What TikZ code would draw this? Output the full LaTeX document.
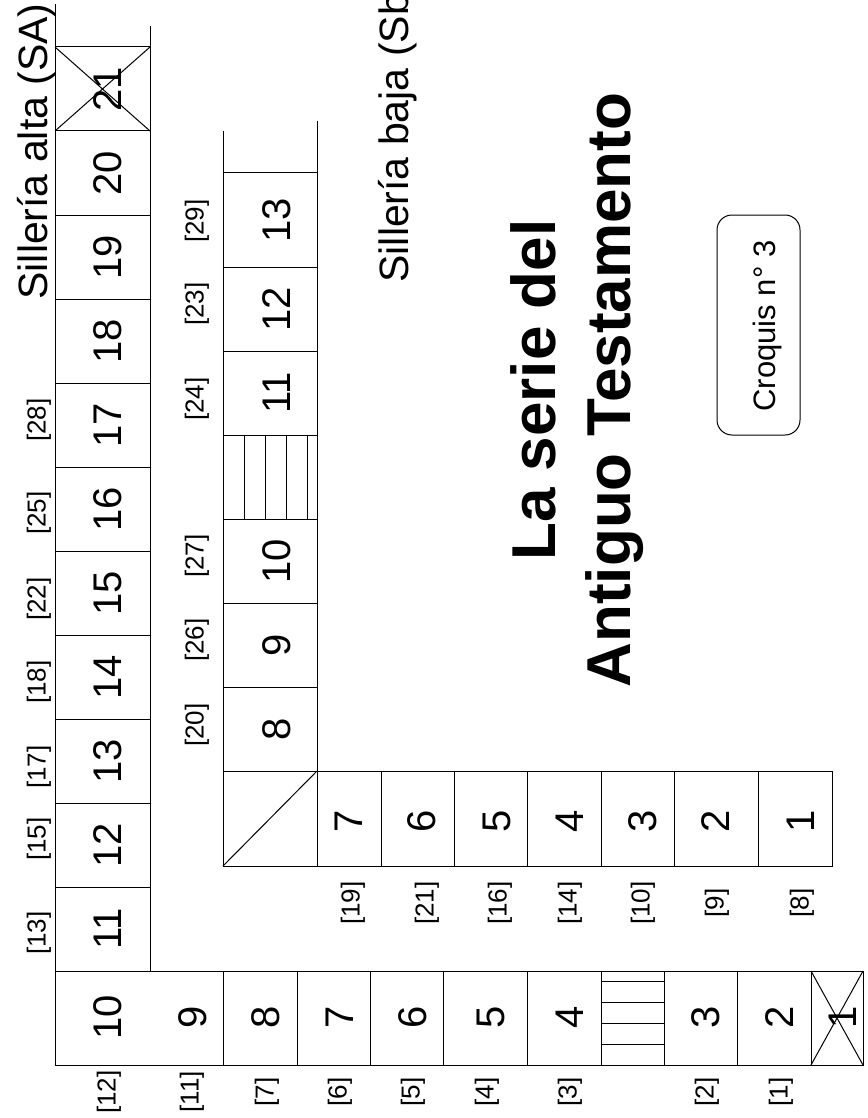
\documentclass[tikz,border=0pt]{standalone}
\usepackage{fontspec}
\setmainfont{Liberation Sans}
\begin{document}
\begin{tikzpicture}[x=1pt,y=-1pt,line width=1pt,
  every node/.append style={rotate=90,inner sep=0pt},
  num/.style={font=\fontsize{40}{40}\selectfont},
  ref/.style={font=\fontsize{26}{26}\selectfont},
  seat/.style={font=\fontsize{41}{41}\selectfont,anchor=base west},
  title/.style={font=\fontsize{62}{75}\selectfont\bfseries,align=center}]
  \useasboundingbox (0,0) rectangle (867,1118);
  % silleria alta
  \draw (55,4) -- (55,1065) -- (863,1065) -- (863,971) -- (150,971) -- (150,26);
  \draw (55,971) -- (150,971);
  \foreach \y in {47,131,...,887} \draw (55,\y) -- (150,\y);
  \draw (55,47) -- (150,131) (150,47) -- (55,131);
  \foreach \x in {223,297,370,443,527,601,664,737,811} \draw (\x,971) -- (\x,1065);
  \foreach \y in {981,1002,1023,1044} \draw (601,\y) -- (664,\y);
  \draw (811,971) -- (863,1065) (863,971) -- (811,1065);
  % silleria baja
  \draw (223,131) -- (223,866) -- (832,866) -- (832,771) -- (223,771);
  \draw (317,121) -- (317,866);
  \foreach \y in {173,267,351,435,519,603,687} \draw (223,\y) -- (317,\y);
  \foreach \x in {244,265,286,307} \draw (\x,435) -- (\x,519);
  \draw (223,866) -- (317,771);
  \foreach \x in {381,454,527,601,674,758} \draw (\x,771) -- (\x,866);

  \foreach \n [count=\k from 0] in {21,20,...,11}
    \node[num] (sa\n) at (108,89+84*\k) {\n};
  \foreach \n/\y in {13/933,15/839,17/767,18/682,22/599,25/513,28/420}
    \node[ref] (ra\n) at (39,\y) {[\n]};
  \foreach \n/\x in {10/108,9/193,8/266,7/340,6/413,5/491,4/570,3/706,2/780,1/843}
    \node[num] (sab\n) at (\x,1017) {\n};
  \foreach \n/\x in {12/109,11/192,7/267,6/340,5/413,4/487,3/570,2/707,1/781}
    \node[ref] (rab\n) at (\x,1092) {[\n]};
  \foreach \n/\y in {13/220,12/309,11/393,10/561,9/645,8/729}
    \node[num] (sb\n) at (277,\y) {\n};
  \foreach \n/\y in {29/221,23/304,24/399,27/556,26/640,20/725}
    \node[ref] (rb\n) at (197,\y) {[\n]};
  \foreach \n/\x in {7/349,6/422,5/497,4/570,3/643,2/716,1/801}
    \node[num] (sbb\n) at (\x,821) {\n};
  \foreach \n/\x in {19/353,21/427,16/500,14/570,10/643,9/717,8/802}
    \node[ref] (rbb\n) at (\x,903) {[\n]};

  \node[seat] (alta) at (47,300) {Sillería alta (SA)};
  \node[seat] (baja) at (408,283) {Sillería baja (Sb)};
  \node[title] (serie) at (577,390) {La serie del\\Antiguo Testamento};
  \draw[rounded corners=15pt] (717,215) rectangle (800,435);
  \node[font=\fontsize{31}{31}\selectfont] (croquis) at (767,326) {Croquis n° 3};
\end{tikzpicture}
\end{document}
